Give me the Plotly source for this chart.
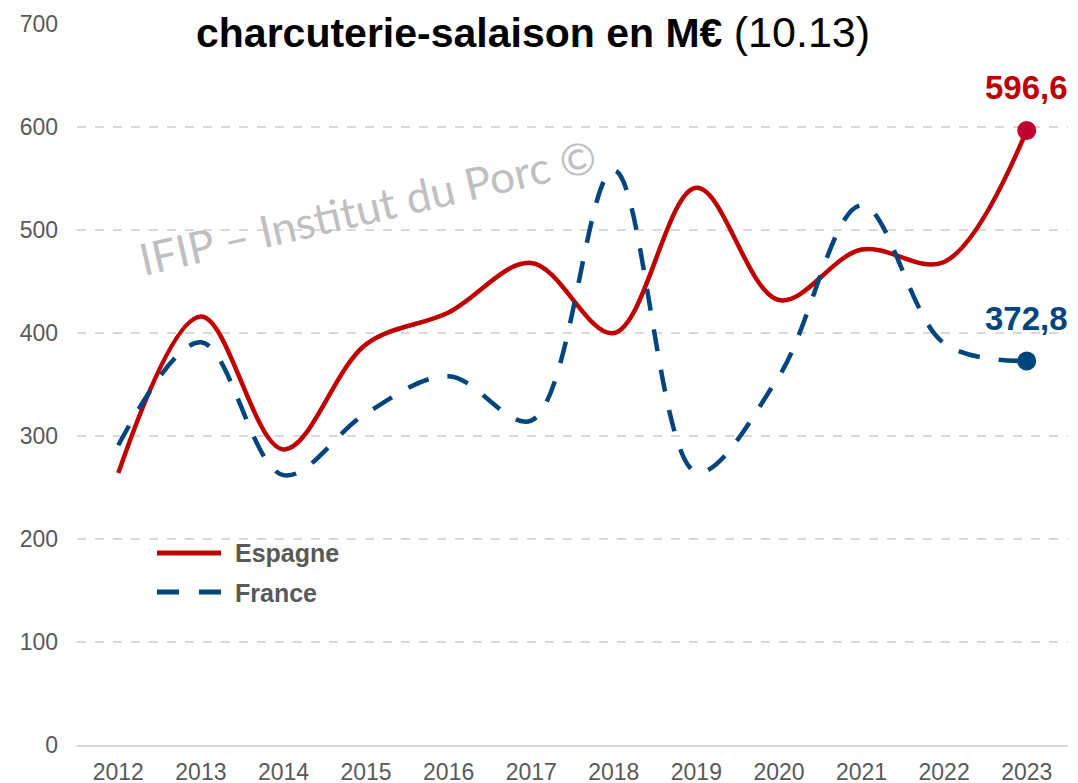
import plotly.graph_objects as go

years = ["2012", "2013", "2014", "2015", "2016", "2017", "2018", "2019", "2020", "2021", "2022", "2023"]
espagne = [264, 416, 287, 389, 420, 468, 400, 541, 432, 481, 469, 596.6]
france = [291, 391, 262, 322, 358, 315, 558, 265, 358, 524, 390, 372.8]
y_ticks = [0, 100, 200, 300, 400, 500, 600, 700]

RED = "#C00000"
BLUE = "#00457D"
GRAY_TXT = "#595959"

# page body has an 8px default margin: the figure is drawn 8px right/down in the window
OFF = 8
W, H = 1078, 783
# plot area in window pixels: x 77..1068, y 24..745
L = 77 - OFF
T = 24 - OFF
R = W - (1068 - OFF)
B = H - (745 - OFF)
pw, ph = W - L - R, H - T - B


def px(xw):
    return (xw - OFF - L) / pw


def py(yw):
    return (H - B - (yw - OFF)) / ph


fig = go.Figure()
fig.add_trace(go.Scatter(x=years, y=espagne, mode="lines", name="Espagne",
                         line=dict(color=RED, width=4.5, shape="spline", smoothing=1.0),
                         showlegend=False))
fig.add_trace(go.Scatter(x=years, y=france, mode="lines", name="France",
                         line=dict(color=BLUE, width=4.5, shape="spline", smoothing=1.0, dash="22px,19px"),
                         showlegend=False))
# end markers
fig.add_trace(go.Scatter(x=[years[-1]], y=[espagne[-1]], mode="markers",
                         marker=dict(color="#C00030", size=19), showlegend=False))
fig.add_trace(go.Scatter(x=[years[-1]], y=[france[-1]], mode="markers",
                         marker=dict(color=BLUE, size=19), showlegend=False))

last_idx = len(years) - 1
annotations = []
annotations.append(dict(x=last_idx, y=espagne[-1], xref="x", yref="y",
                        text="<b>" + f"{espagne[-1]:.1f}".replace(".", ",") + "</b>",
                        showarrow=False, yshift=43,
                        font=dict(family="Liberation Sans, Arial", size=33, color=RED)))
annotations.append(dict(x=last_idx, y=france[-1], xref="x", yref="y",
                        text="<b>" + f"{france[-1]:.1f}".replace(".", ",") + "</b>",
                        showarrow=False, yshift=43,
                        font=dict(family="Liberation Sans, Arial", size=33, color=BLUE)))
# title
annotations.append(dict(x=px(533), y=py(32), xref="paper", yref="paper",
                        xanchor="center", yanchor="middle", showarrow=False,
                        text="<b>charcuterie-salaison en M€</b> <span style='font-size:43px'>(10.13)</span>",
                        font=dict(family="Liberation Sans, Arial", size=41, color="black")))
# watermark
annotations.append(dict(x=px(367), y=py(207), xref="paper", yref="paper",
                        xanchor="center", yanchor="middle", showarrow=False,
                        text="IFIP – Institut du Porc ©", textangle=-13,
                        font=dict(family="Lato, Open Sans", size=44, color="#BFBFBF")))
# legend text
annotations.append(dict(x=px(233), y=py(553), xref="paper", yref="paper",
                        xanchor="left", yanchor="middle", showarrow=False,
                        text="<b>Espagne</b>",
                        font=dict(family="Liberation Sans, Arial", size=25, color=GRAY_TXT)))
annotations.append(dict(x=px(233), y=py(593), xref="paper", yref="paper",
                        xanchor="left", yanchor="middle", showarrow=False,
                        text="<b>France</b>",
                        font=dict(family="Liberation Sans, Arial", size=25, color=GRAY_TXT)))

shapes = [
    dict(type="line", xref="paper", yref="paper", x0=px(157), x1=px(221), y0=py(553), y1=py(553),
         line=dict(color=RED, width=5)),
    dict(type="line", xref="paper", yref="paper", x0=px(157), x1=px(221), y0=py(592), y1=py(592),
         line=dict(color=BLUE, width=5, dash="22px,20px")),
]

fig.update_layout(
    width=W, height=H,
    margin=dict(l=L, r=R, t=T, b=B),
    paper_bgcolor="white", plot_bgcolor="white",
    annotations=annotations, shapes=shapes,
    showlegend=False,
    xaxis=dict(type="category", range=[-0.5, 11.5], showgrid=False, automargin=False,
               showline=True, linecolor="#D9D9D9", linewidth=2,
               ticks="outside", ticklen=5, tickcolor="rgba(0,0,0,0)",
               tickfont=dict(family="Liberation Sans, Arial", size=23, color=GRAY_TXT)),
    yaxis=dict(range=[0, 700], tickvals=y_ticks, showgrid=True, gridcolor="#D9D9D9",
               griddash="dash", gridwidth=1.5, zeroline=False, showline=False,
               ticks="", ticklabelstandoff=18, automargin=False,
               tickfont=dict(family="Liberation Sans, Arial", size=23, color=GRAY_TXT)),
)

fig.write_html("out.html")
